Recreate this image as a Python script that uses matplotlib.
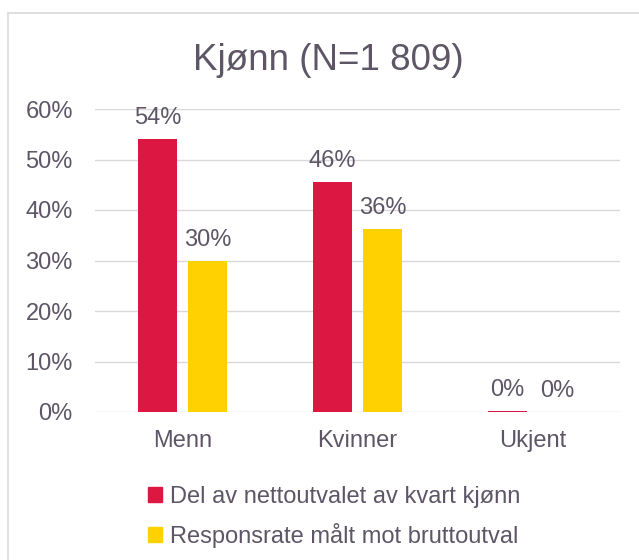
import matplotlib
matplotlib.use('Agg')
import matplotlib.pyplot as plt
from matplotlib.patches import Rectangle, Patch
import numpy as np

plt.rcParams['font.family'] = ['Liberation Sans', 'DejaVu Sans']

categories = ['Menn', 'Kvinner', 'Ukjent']
del_netto = [54.1, 45.6, 0.2]
responsrate = [30.0, 36.3, 0.0]
series_names = ['Del av nettoutvalet av kvart kjønn', 'Responsrate målt mot bruttoutval']
yticks = [0, 10, 20, 30, 40, 50, 60]

RED = '#DC1842'
YELLOW = '#FFD100'
TXT = '#5E5666'
GRID = '#D9D9D9'
FS = 17

fig = plt.figure(figsize=(6.39, 5.6), dpi=100)
# ramme rundt figuren
fig.patches.append(Rectangle((8 / 639, -0.1), 1.2, (560 - 13) / 560 + 0.1,
                             transform=fig.transFigure, fill=False,
                             edgecolor=GRID, linewidth=1.2))

ax = fig.add_axes([95 / 639, (560 - 412) / 560, 525 / 639, 303 / 560])
x = np.arange(len(categories))
w = 0.223
off = 0.143
b1 = ax.bar(x - off, del_netto, w, color=RED, zorder=3, linewidth=0)
b2 = ax.bar(x + off, responsrate, w, color=YELLOW, zorder=3, linewidth=0)

for bars, vals in ((b1, del_netto), (b2, responsrate)):
    for r, v in zip(bars, vals):
        ax.annotate(f'{v:.0f}%', (r.get_x() + r.get_width() / 2, r.get_height()),
                    xytext=(0, 7), textcoords='offset points',
                    ha='center', va='bottom', fontsize=FS, color=TXT)

ax.set_xlim(-0.5, 2.5)
ax.set_ylim(0, 60)
ax.set_yticks(yticks)
ax.set_yticklabels([f'{t}%' for t in yticks])
ax.set_xticks(x)
ax.set_xticklabels(categories)
ax.tick_params(axis='both', length=0, labelsize=FS, labelcolor=TXT)
ax.tick_params(axis='y', pad=16)
ax.tick_params(axis='x', pad=13)
ax.grid(axis='y', color=GRID, linewidth=1, zorder=0)
for s in ax.spines.values():
    s.set_visible(False)

fig.text(328 / 639, (560 - 60) / 560, 'Kjønn (N=1 809)', ha='center', va='center',
         fontsize=26.5, color=TXT)

handles = [Patch(color=RED), Patch(color=YELLOW)]
leg = fig.legend(handles, series_names, loc='upper left',
                 bbox_to_anchor=(136 / 639, (560 - 474) / 560), frameon=False,
                 fontsize=FS, handlelength=0.6, handleheight=0.6,
                 handletextpad=0.35, labelspacing=0.65, borderpad=0)
for t in leg.get_texts():
    t.set_color(TXT)

fig.savefig('out.png', dpi=100)
